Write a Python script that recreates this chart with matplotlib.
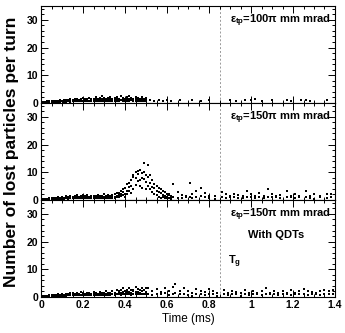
import matplotlib
matplotlib.use("Agg")
import matplotlib.pyplot as plt
from matplotlib.ticker import MultipleLocator

plt.rcParams['font.family'] = ['Liberation Sans Narrow', 'Liberation Sans', 'DejaVu Sans']
plt.rcParams['font.weight'] = 'bold'
plt.rcParams['mathtext.fontset'] = 'custom'
plt.rcParams['mathtext.rm'] = 'Liberation Sans:bold'
plt.rcParams['mathtext.it'] = 'Liberation Sans:bold'
plt.rcParams['mathtext.bf'] = 'Liberation Sans:bold'

# ── data ────────────────────────────────────────────────────────────────────
t_dense = [0.01, 0.02, 0.03, 0.04, 0.05, 0.06, 0.07, 0.08, 0.09, 0.10,
           0.11, 0.12, 0.13, 0.14, 0.15, 0.16, 0.17, 0.18, 0.19, 0.20,
           0.21, 0.22, 0.23, 0.24, 0.25, 0.26, 0.27, 0.28, 0.29, 0.30,
           0.31, 0.32, 0.33, 0.34, 0.35, 0.36, 0.37, 0.38, 0.39, 0.40,
           0.41, 0.42, 0.43, 0.44, 0.45, 0.46, 0.47, 0.48, 0.49, 0.50]

# panel 1: 100 pi mm mrad
n1_a = [0.2, 0.4, 0.6, 0.5, 0.8, 0.7, 0.9, 0.6, 1.0, 0.8,
        1.1, 0.9, 1.2, 1.4, 1.0, 1.3, 1.6, 1.1, 1.4, 1.7,
        1.5, 1.2, 1.8, 1.3, 1.6, 2.0, 1.4, 1.7, 2.4, 1.8,
        1.3, 1.9, 2.1, 1.5, 1.8, 2.2, 1.6, 2.6, 1.9, 1.4,
        2.0, 2.7, 1.8, 1.5, 2.1, 1.9, 1.4, 2.3, 1.6, 1.8]
n1_b = [0.1, 0.3, 0.2, 0.7, 0.4, 0.5, 0.6, 0.9, 0.5, 0.7,
        0.6, 1.0, 0.8, 0.7, 0.9, 1.1, 0.8, 1.0, 1.2, 0.9,
        1.0, 1.3, 0.9, 1.2, 1.1, 1.4, 1.0, 1.2, 1.3, 1.0,
        1.4, 1.1, 1.6, 1.2, 1.0, 1.3, 1.5, 1.2, 1.4, 1.1,
        1.3, 1.5, 1.2, 1.6, 1.3, 1.0, 1.2, 1.4, 1.1, 1.0]
n1_c = [0.0, 0.1, 0.3, 0.2, 0.3, 0.4, 0.3, 0.5, 0.4, 0.6,
        0.5, 0.4, 0.6, 0.5, 0.7, 0.6, 0.8, 0.6, 0.7, 0.8,
        0.7, 0.9, 0.6, 0.8, 0.7, 0.9, 0.8, 0.7, 0.9, 0.8,
        0.9, 0.7, 0.9, 0.8, 0.7, 0.9, 0.8, 1.0, 0.8, 0.9,
        0.8, 0.9, 1.0, 0.8, 0.9, 0.7, 0.8, 0.9, 0.8, 0.7]
t1_s = [0.52, 0.54, 0.56, 0.58, 0.60, 0.62, 0.66, 0.72, 0.76, 0.80, 0.90,
        0.93, 0.97, 1.00, 1.02, 1.05, 1.10, 1.17, 1.19, 1.24, 1.26, 1.28, 1.36]
n1_s = [1.0, 0.9, 1.1, 0.8, 1.0, 0.9, 1.1, 1.0, 0.9, 1.2, 1.0,
        0.9, 1.1, 1.0, 1.3, 0.9, 1.0, 1.1, 0.9, 1.0, 1.2, 0.9, 1.0]

# panel 2: 150 pi mm mrad
n2_a = [0.2, 0.5, 0.4, 0.7, 0.6, 0.9, 0.7, 1.0, 0.8, 1.2,
        0.9, 1.3, 1.1, 1.6, 1.0, 1.4, 1.8, 1.2, 1.5, 1.9,
        1.3, 1.7, 1.2, 1.6, 1.4, 1.1, 1.8, 1.3, 1.5, 2.0,
        1.4, 1.7, 1.2, 1.9, 2.2, 1.5, 2.4, 3.1, 3.8, 4.5,
        5.6, 4.8, 7.2, 8.4, 10.1, 9.3, 10.8, 9.6, 13.4, 9.0]
n2_b = [0.1, 0.3, 0.2, 0.4, 0.5, 0.3, 0.6, 0.5, 0.7, 0.6,
        0.8, 0.7, 0.9, 0.8, 1.0, 0.9, 1.1, 0.9, 1.0, 1.2,
        1.0, 1.1, 0.9, 1.2, 1.0, 1.3, 1.1, 1.0, 1.2, 1.1,
        1.3, 1.0, 1.4, 1.2, 1.1, 2.6, 1.8, 2.3, 2.9, 2.2,
        3.4, 6.2, 5.1, 9.2, 7.8, 10.6, 7.3, 8.1, 10.2, 6.4]
n2_c = [0.0, 0.1, 0.2, 0.2, 0.3, 0.3, 0.4, 0.3, 0.5, 0.4,
        0.5, 0.6, 0.5, 0.6, 0.7, 0.6, 0.7, 0.6, 0.8, 0.7,
        0.8, 0.7, 0.8, 0.9, 0.7, 0.8, 0.9, 0.8, 0.7, 0.9,
        0.8, 0.9, 0.8, 0.7, 0.9, 1.0, 1.1, 1.4, 1.8, 1.2,
        2.1, 3.3, 2.6, 4.1, 5.4, 6.8, 5.2, 4.4, 7.6, 3.9]
t2_p = [0.51, 0.52, 0.53, 0.54, 0.55, 0.56, 0.57, 0.58, 0.59, 0.60, 0.61, 0.62]
n2_p_a = [12.8, 8.9, 7.1, 5.8, 5.2, 4.3, 3.9, 3.2, 2.8, 2.3, 2.1, 1.4]
n2_p_b = [8.2, 6.1, 4.8, 4.2, 3.3, 2.9, 2.4, 1.9, 1.3, 1.1, 1.7, 1.0]
n2_p_c = [5.1, 3.8, 2.9, 2.2, 1.8, 1.2, 0.9, 1.0, 0.6, 0.8, 0.9, 0.5]
t2_s = [0.63, 0.65, 0.67, 0.69, 0.71, 0.72, 0.74, 0.76, 0.78, 0.80, 0.83, 0.86,
        0.88, 0.90, 0.92, 0.94, 0.96, 0.98, 1.00, 1.02, 1.04, 1.06, 1.08, 1.10,
        1.12, 1.14, 1.17, 1.19, 1.21, 1.23, 1.26, 1.28, 1.30, 1.33, 1.36, 1.38]
n2_s = [5.8, 2.9, 1.8, 1.4, 6.0, 2.2, 3.1, 4.2, 2.4, 1.6, 1.3, 2.8, 2.1, 1.5,
        2.3, 1.7, 1.4, 3.2, 2.0, 1.5, 2.4, 1.6, 4.1, 2.3, 1.4, 1.8, 3.2, 1.5,
        2.2, 1.6, 3.4, 1.5, 2.1, 1.4, 2.3, 2.2]
n2_s2 = [1.0, 0.9, 0.6, 1.0, 1.1, 0.9, 1.0, 1.3, 1.0, 0.9, 0.5, 1.0, 0.9, 1.1,
         1.0, 0.9, 0.6, 1.0, 1.1, 0.9, 1.0, 0.9, 1.0, 1.2, 1.0, 0.9, 1.1, 1.0,
         0.9, 1.0, 1.1, 0.9, 0.5, 1.0, 0.9, 1.0]

# panel 3: 150 pi mm mrad with QDTs
n3_a = [0.2, 0.4, 0.5, 0.6, 0.7, 0.9, 0.6, 1.0, 0.8, 1.1,
        0.9, 1.2, 1.0, 1.3, 1.6, 1.1, 1.4, 1.2, 1.7, 1.3,
        1.1, 1.6, 1.3, 1.2, 1.8, 1.4, 1.2, 1.7, 1.3, 1.5,
        2.0, 1.4, 1.6, 2.2, 1.5, 2.4, 1.8, 2.6, 3.2, 2.3,
        1.9, 3.4, 2.5, 2.2, 3.6, 1.8, 2.7, 3.3, 2.4, 3.1]
n3_b = [0.1, 0.3, 0.2, 0.4, 0.3, 0.5, 0.6, 0.7, 0.5, 0.8,
        0.6, 0.9, 0.8, 1.0, 0.9, 1.1, 0.9, 1.0, 0.8, 1.2,
        1.0, 0.9, 1.3, 1.0, 1.1, 1.4, 1.0, 1.2, 0.9, 1.3,
        1.1, 1.0, 1.5, 1.2, 1.6, 1.1, 2.1, 1.3, 1.8, 1.2,
        2.4, 1.7, 1.3, 2.6, 1.9, 2.8, 1.4, 2.0, 2.7, 1.8]
n3_c = [0.0, 0.1, 0.2, 0.2, 0.3, 0.3, 0.4, 0.4, 0.4, 0.5,
        0.5, 0.5, 0.6, 0.6, 0.6, 0.7, 0.6, 0.7, 0.7, 0.8,
        0.7, 0.8, 0.8, 0.7, 0.8, 0.9, 0.8, 0.9, 0.8, 0.9,
        0.9, 0.8, 0.9, 1.0, 0.9, 1.0, 1.1, 0.9, 1.0, 1.1,
        1.0, 1.1, 0.9, 1.2, 1.0, 1.1, 1.0, 1.2, 1.1, 1.0]
t3_s = [0.51, 0.53, 0.55, 0.57, 0.59, 0.61, 0.63, 0.64, 0.66, 0.68, 0.70, 0.72,
        0.74, 0.76, 0.78, 0.80, 0.82, 0.84, 0.87, 0.89, 0.91, 0.93, 0.95, 0.97,
        0.99, 1.01, 1.03, 1.05, 1.07, 1.09, 1.11, 1.13, 1.15, 1.17, 1.19, 1.21,
        1.23, 1.25, 1.27, 1.29, 1.31, 1.33, 1.35, 1.37, 1.39]
n3_s = [3.2, 2.1, 2.8, 1.9, 3.4, 2.2, 3.8, 4.8, 2.3, 3.1, 2.0, 1.4, 2.9, 2.2,
        1.8, 3.0, 2.1, 1.5, 2.4, 1.6, 2.2, 1.9, 1.4, 2.5, 1.6, 2.1, 1.5, 2.3,
        3.1, 1.4, 2.2, 1.6, 2.0, 1.5, 2.4, 1.6, 2.1, 2.9, 2.2, 1.9, 1.5, 2.3,
        2.7, 2.1, 2.4]
n3_s2 = [1.1, 0.9, 1.2, 1.0, 1.6, 0.9, 1.1, 1.5, 1.0, 1.2, 0.9, 0.5, 1.1, 1.0,
         0.9, 1.2, 1.0, 0.5, 1.1, 0.9, 1.0, 1.2, 0.5, 1.0, 0.9, 1.1, 1.0, 0.9,
         1.2, 1.0, 1.1, 0.9, 1.0, 1.2, 0.9, 1.0, 1.1, 1.0, 0.9, 1.2, 1.0, 0.9,
         1.1, 1.0, 1.2]

T_G = 0.85
labels = [r"$\epsilon_{tp}$=100$\pi$ mm mrad",
          r"$\epsilon_{tp}$=150$\pi$ mm mrad",
          r"$\epsilon_{tp}$=150$\pi$ mm mrad"]

panels = [
    [(t_dense, n1_a), (t_dense, n1_b), (t_dense, n1_c), (t1_s, n1_s)],
    [(t_dense, n2_a), (t_dense, n2_b), (t_dense, n2_c), (t2_p, n2_p_a),
     (t2_p, n2_p_b), (t2_p, n2_p_c), (t2_s, n2_s), (t2_s, n2_s2)],
    [(t_dense, n3_a), (t_dense, n3_b), (t_dense, n3_c), (t3_s, n3_s),
     (t3_s, n3_s2)],
]

fig = plt.figure(figsize=(3.45, 3.33), dpi=100)
gs = fig.add_gridspec(3, 1, left=0.119, right=0.971, bottom=0.108, top=0.982,
                      hspace=0)
axes = [fig.add_subplot(gs[i]) for i in range(3)]

for i, ax in enumerate(axes):
    for t, n in panels[i]:
        ax.scatter(t, n, s=1.8, marker='s', color='black', linewidths=0,
                   zorder=3)
    ax.axvline(T_G, color='#999999', lw=0.7, ls=(0, (2, 2)), zorder=1)
    ax.set_xlim(0, 1.4)
    ax.set_ylim(0, 35)
    ax.xaxis.set_major_locator(MultipleLocator(0.2))
    ax.xaxis.set_minor_locator(MultipleLocator(0.05))
    ax.yaxis.set_major_locator(MultipleLocator(10))
    ax.yaxis.set_minor_locator(MultipleLocator(2))
    ax.tick_params(which='both', direction='in', top=True, right=True,
                   labelsize=7.5, width=0.7, pad=2)
    ax.tick_params(which='major', length=5)
    ax.tick_params(which='minor', length=2.5)
    for sp in ax.spines.values():
        sp.set_linewidth(0.8)
    ax.text(0.9, 29.6, labels[i], fontsize=8, va='center', ha='left')
    if i < 2:
        ax.set_xticklabels([])

axes[2].text(0.985, 22.4, "With QDTs", fontsize=8, va='center', ha='left')
axes[2].text(0.89, 12.6, r"T$_{g}$", fontsize=8, va='center', ha='left')

xt = [0, 0.2, 0.4, 0.6, 0.8, 1, 1.2, 1.4]
axes[2].set_xticks(xt)
axes[2].set_xticklabels(["0", "0.2", "0.4", "0.6", "0.8", "1", "1.2", "1.4"])
axes[2].set_xlabel("Time (ms)", fontsize=8.5, labelpad=2)

fig.text(0.032, 0.545, "Number of lost particles per turn", rotation=90,
         fontsize=12.5, fontweight='bold', family='Liberation Sans',
         ha='center', va='center')

fig.savefig("out.png", dpi=100)
